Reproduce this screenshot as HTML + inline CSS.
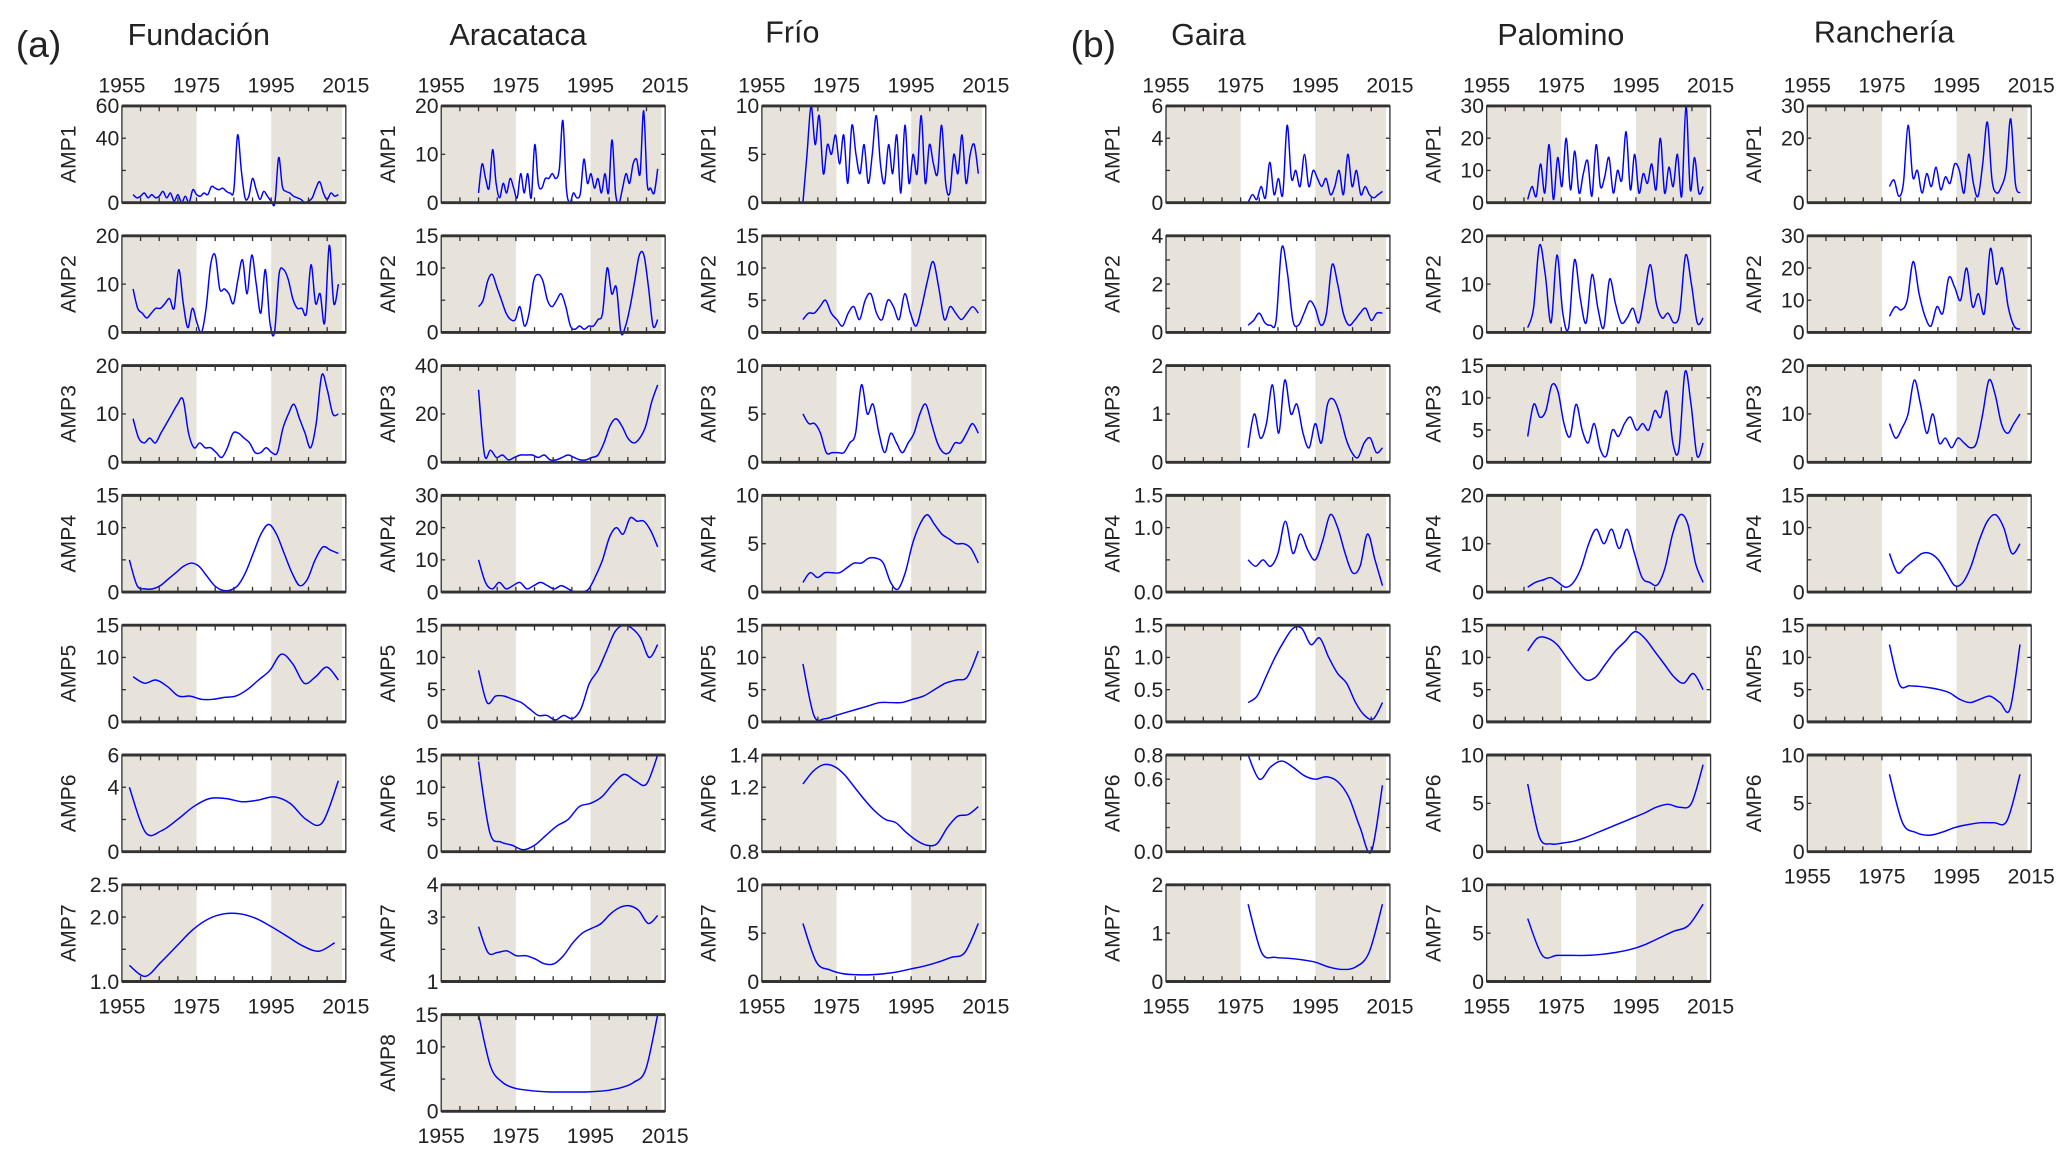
<!DOCTYPE html>
<html><head><meta charset="utf-8"><title>AMP panels</title>
<style>
html,body{margin:0;padding:0;background:#fff;}
svg{display:block;font-family:"Liberation Sans",Arial,sans-serif;}
</style></head>
<body>
<svg id="fig" width="2067" height="1159" viewBox="0 0 1560 875" preserveAspectRatio="none" xmlns="http://www.w3.org/2000/svg">
<g fill="#222">
<text x="12" y="43" font-size="28">(a)</text>
<text x="808" y="43" font-size="28">(b)</text>
<text x="150" y="34" font-size="23" text-anchor="middle">Fundación</text>
<text x="391" y="34" font-size="23" text-anchor="middle">Aracataca</text>
<text x="598" y="32" font-size="23" text-anchor="middle">Frío</text>
<text x="912" y="34" font-size="23" text-anchor="middle">Gaira</text>
<text x="1178" y="34" font-size="23" text-anchor="middle">Palomino</text>
<text x="1422" y="32" font-size="23" text-anchor="middle">Ranchería</text>
</g>
<g id="plots"></g>
</svg>
<script>
// x tick labels
const xTicks = [1955, 1975, 1995, 2015];
const shadeA = [1955, 1975];
const shadeB = [1995, 2014];

// Fundación
const fundAmp1 = [5,3,4,6,3,5,3,4,7,3,6,1,5,0,4,0,8,5,4,6,5,10,9,8,9,7,6,8,42,20,3,4,15,8,2,7,4,1,0,28,10,7,6,4,3,2,0,1,3,9,13,6,2,6,4,5];
const fundAmp2 = [9,5,4,3,4,5,5,6,7,5,13,6,1,5,2,0,5,14,16,9,9,8,6,11,15,8,16,10,4,13,2,0,12,13,11,7,5,5,4,14,6,8,2,18,6,10];
const fundAmp3 = [9,5,4,5,4,6,8,10,12,13,6,3,4,3,3,2,1,3,6,6,5,4,2,2,3,2,2,7,10,12,9,6,3,8,18,15,10,10];
const fundAmp4 = [5,1,0.5,0.5,1,2,3,4,4.5,4,2.5,1,0.3,0.3,1,3,6,9,10.5,9,6,3,1,2,5,7,6.5,6];
const fundAmp5 = [7,6,6.5,5.5,4,4,3.5,3.5,3.8,4,5,6.5,8,10.5,9,6,7,8.5,6.5];
const fundAmp6 = [4,1.2,1.3,2,2.8,3.3,3.3,3.1,3.2,3.4,3,2,1.8,4.4];
const fundAmp7 = [1.25,1.08,1.3,1.55,1.8,1.97,2.05,2.05,1.98,1.85,1.7,1.55,1.47,1.6];
// Aracataca
const araAmp1 = [2,8,5,3,11,4,1,4,2,5,3,1,6,2,6,1,12,4,3,5,5,6,5,7,17,3,0,2,1,2,9,4,6,3,5,2,6,2,13,2,0,3,6,4,8,9,6,19,4,3,2,7];
const araAmp2 = [4,5,8,9,7,5,3,2,2,4,1,3,8,9,8,5,4,5,6,4,1,0.5,1,0.5,1,1,2,3,10,6,7,0,1,4,8,12,12,7,1,2];
const araAmp3 = [30,3,5,2,3,1,2,3,3,3,2,3,1,1,2,3,2,1,1,2,3,8,15,18,15,10,8,10,15,25,32];
const araAmp4 = [10,3,1,3,1,2,3,1,2,3,2,1,2,1,0,0,1,5,10,17,20,18,23,22,22,19,14];
const araAmp5 = [8,3,4,4,3.5,3,2,1,1,0.3,1,0.5,2,6,8,11,14,15,14.5,13,10,12];
const araAmp6 = [14,3,1.5,1,0.3,1,2.5,4,5,7,7.5,8.5,10.5,12,11,10.5,15];
const araAmp7 = [2.7,1.9,1.9,1.95,1.8,1.8,1.7,1.55,1.55,1.8,2.2,2.5,2.65,2.8,3.1,3.3,3.35,3.2,2.8,3.05];
const araAmp8 = [15,7,4.5,3.6,3.3,3.1,3,3,3,3,3.1,3.3,3.7,4.5,6.5,15];
// Frío
const frioAmp1 = [0,5,10,6,9,3,6,5,7,4,7,2,8,5,3,6,2,5,9,4,2,6,3,7,1,8,2,5,3,9,2,6,4,3,8,2,1,5,3,7,2,5,6,3];
const frioAmp2 = [2,3,3,4,5,3,2,1,3,4,2,5,6,3,2,5,4,2,6,3,1,4,8,11,7,2,4,3,2,3,4,3];
const frioAmp3 = [5,4,4,3,1,1,1,1,2,3,8,5,6,3,1,3,2,1,2,3,5,6,4,2,1,1,2,2,3,4,3];
const frioAmp4 = [1,2,1.5,2,2,2,2.5,3,3,3.5,3.5,3,1,0.3,2,5,7,8,7,6,5.5,5,5,4.5,3];
const frioAmp5 = [9,1,0.5,1,1.5,2,2.5,3,3,3,3.5,4,5,6,6.5,7,11];
const frioAmp6 = [1.22,1.3,1.34,1.33,1.28,1.2,1.12,1.05,1.0,0.98,0.92,0.87,0.84,0.85,0.95,1.02,1.03,1.08];
const frioAmp7 = [6,2,1.2,0.8,0.7,0.7,0.8,1,1.3,1.6,2,2.5,3,6];
// Gaira
const gaiAmp1 = [0,0.5,0.2,1,0.3,2.5,0.5,1.5,0.5,4.8,1.5,2,1,3,1,2,1.5,1,1.5,0.5,1,2,0.5,3,1,2,0.5,1,0.5,0.3,0.5,0.7];
const gaiAmp2 = [0.3,0.5,0.8,0.4,0.3,0.5,3.5,2.5,0.5,0.3,0.8,1.3,1,0.3,0.8,2.8,2,0.8,0.3,0.5,0.8,1,0.5,0.8,0.8];
const gaiAmp3 = [0.3,1,0.5,0.8,1.6,0.6,1.7,1,1.2,0.6,0.3,0.8,0.4,1.2,1.3,1,0.5,0.2,0.1,0.4,0.5,0.2,0.3];
const gaiAmp4 = [0.5,0.4,0.5,0.4,0.6,1.1,0.6,0.9,0.65,0.5,0.8,1.2,1.0,0.6,0.3,0.4,0.9,0.5,0.1];
const gaiAmp5 = [0.3,0.4,0.7,1.0,1.25,1.45,1.45,1.2,1.3,1.0,0.75,0.6,0.3,0.1,0.05,0.3];
const gaiAmp6 = [0.8,0.6,0.7,0.75,0.7,0.63,0.6,0.62,0.58,0.45,0.2,0.0,0.55];
const gaiAmp7 = [1.6,0.6,0.5,0.48,0.45,0.4,0.3,0.25,0.3,0.6,1.6];
// Palomino
const palAmp1 = [1,5,2,12,3,18,1,14,5,20,4,16,3,9,13,2,18,5,8,14,3,10,7,22,4,15,3,9,6,12,4,20,3,11,5,15,2,30,4,14,3,5];
const palAmp2 = [1,5,18,12,2,16,4,1,15,7,2,12,5,1,11,6,2,3,5,2,8,14,6,3,4,2,4,16,10,2,3];
const palAmp3 = [4,9,7,8,12,11,6,4,9,5,3,6,2,1,5,4,6,7,5,6,5,8,7,11,3,2,14,9,1,3];
const palAmp4 = [1,2,2.5,3,2,1,2,5,10,13,10,13,9,13,8,3,2,1.5,5,12,16,14,6,2];
const palAmp5 = [11,13,13,12,10,8,6.5,7,9,11,12.5,14,13,11,9,7,6,7.5,5];
const palAmp6 = [7,1.5,0.8,0.9,1.1,1.5,2,2.5,3,3.5,4,4.6,4.9,4.6,5,9];
const palAmp7 = [6.5,2.7,2.7,2.7,2.7,2.8,3,3.3,3.8,4.5,5.2,5.8,8];
// Ranchería
const ranAmp1 = [5,7,2,6,24,8,10,3,9,5,11,4,8,6,12,10,3,15,6,2,12,25,7,3,5,10,26,6,3];
const ranAmp2 = [5,8,7,10,22,12,5,2,8,6,17,14,10,20,8,12,6,26,15,20,8,2,1];
const ranAmp3 = [8,5,7,10,17,12,6,10,4,5,3,5,4,3,4,10,17,14,8,6,8,10];
const ranAmp4 = [6,3,4,5,6,6,5,3,1,1.5,4,8,11,12,10,6,7.5];
const ranAmp5 = [12,5.8,5.6,5.5,5.3,5,4.5,3.5,3,3.5,4,3,2,12];
const ranAmp6 = [8,3,2,1.7,2,2.5,2.8,3,3,3.2,8];

const colX = [92,333,575,880,1122,1364];
const W = 169, H = 73, ROW0 = 80, ROWSTEP = 98;
const FS = 16;

const panels = [
 {c:0,r:0,n:'fundacion',lab:'AMP1',y0:0,y1:60,t:[0,20,40,60],tl:['0','','40','60'],s:1958,e:2013,v:fundAmp1},
 {c:0,r:1,n:'fundacion',lab:'AMP2',y0:0,y1:20,t:[0,10,20],tl:['0','10','20'],s:1958,e:2013,v:fundAmp2},
 {c:0,r:2,n:'fundacion',lab:'AMP3',y0:0,y1:20,t:[0,10,20],tl:['0','10','20'],s:1958,e:2013,v:fundAmp3},
 {c:0,r:3,n:'fundacion',lab:'AMP4',y0:0,y1:15,t:[0,5,10,15],tl:['0','','10','15'],s:1957,e:2013,v:fundAmp4},
 {c:0,r:4,n:'fundacion',lab:'AMP5',y0:0,y1:15,t:[0,5,10,15],tl:['0','','10','15'],s:1958,e:2013,v:fundAmp5},
 {c:0,r:5,n:'fundacion',lab:'AMP6',y0:0,y1:6,t:[0,2,4,6],tl:['0','','4','6'],s:1957,e:2013,v:fundAmp6},
 {c:0,r:6,n:'fundacion',lab:'AMP7',y0:1,y1:2.5,t:[1,1.5,2,2.5],tl:['1.0','','2.0','2.5'],s:1957,e:2012,v:fundAmp7,last:true},
 {c:1,r:0,n:'aracataca',lab:'AMP1',y0:0,y1:20,t:[0,10,20],tl:['0','10','20'],s:1965,e:2013,v:araAmp1},
 {c:1,r:1,n:'aracataca',lab:'AMP2',y0:0,y1:15,t:[0,5,10,15],tl:['0','','10','15'],s:1965,e:2013,v:araAmp2},
 {c:1,r:2,n:'aracataca',lab:'AMP3',y0:0,y1:40,t:[0,20,40],tl:['0','20','40'],s:1965,e:2013,v:araAmp3},
 {c:1,r:3,n:'aracataca',lab:'AMP4',y0:0,y1:30,t:[0,10,20,30],tl:['0','10','20','30'],s:1965,e:2013,v:araAmp4},
 {c:1,r:4,n:'aracataca',lab:'AMP5',y0:0,y1:15,t:[0,5,10,15],tl:['0','5','10','15'],s:1965,e:2013,v:araAmp5},
 {c:1,r:5,n:'aracataca',lab:'AMP6',y0:0,y1:15,t:[0,5,10,15],tl:['0','5','10','15'],s:1965,e:2013,v:araAmp6},
 {c:1,r:6,n:'aracataca',lab:'AMP7',y0:1,y1:4,t:[1,2,3,4],tl:['1','','3','4'],s:1965,e:2013,v:araAmp7},
 {c:1,r:7,n:'aracataca',lab:'AMP8',y0:0,y1:15,t:[0,5,10,15],tl:['0','','10','15'],s:1965,e:2013,v:araAmp8,last:true},
 {c:2,r:0,n:'frio',lab:'AMP1',y0:0,y1:10,t:[0,5,10],tl:['0','5','10'],s:1966,e:2013,v:frioAmp1},
 {c:2,r:1,n:'frio',lab:'AMP2',y0:0,y1:15,t:[0,5,10,15],tl:['0','5','10','15'],s:1966,e:2013,v:frioAmp2},
 {c:2,r:2,n:'frio',lab:'AMP3',y0:0,y1:10,t:[0,5,10],tl:['0','5','10'],s:1966,e:2013,v:frioAmp3},
 {c:2,r:3,n:'frio',lab:'AMP4',y0:0,y1:10,t:[0,5,10],tl:['0','5','10'],s:1966,e:2013,v:frioAmp4},
 {c:2,r:4,n:'frio',lab:'AMP5',y0:0,y1:15,t:[0,5,10,15],tl:['0','5','10','15'],s:1966,e:2013,v:frioAmp5},
 {c:2,r:5,n:'frio',lab:'AMP6',y0:0.8,y1:1.4,t:[0.8,1.0,1.2,1.4],tl:['0.8','','1.2','1.4'],s:1966,e:2013,v:frioAmp6},
 {c:2,r:6,n:'frio',lab:'AMP7',y0:0,y1:10,t:[0,5,10],tl:['0','5','10'],s:1966,e:2013,v:frioAmp7,last:true},
 {c:3,r:0,n:'gaira',lab:'AMP1',y0:0,y1:6,t:[0,2,4,6],tl:['0','','4','6'],s:1977,e:2013,v:gaiAmp1},
 {c:3,r:1,n:'gaira',lab:'AMP2',y0:0,y1:4,t:[0,1,2,3,4],tl:['0','','2','','4'],s:1977,e:2013,v:gaiAmp2},
 {c:3,r:2,n:'gaira',lab:'AMP3',y0:0,y1:2,t:[0,1,2],tl:['0','1','2'],s:1977,e:2013,v:gaiAmp3},
 {c:3,r:3,n:'gaira',lab:'AMP4',y0:0,y1:1.5,t:[0,0.5,1,1.5],tl:['0.0','','1.0','1.5'],s:1977,e:2013,v:gaiAmp4},
 {c:3,r:4,n:'gaira',lab:'AMP5',y0:0,y1:1.5,t:[0,0.5,1,1.5],tl:['0.0','0.5','1.0','1.5'],s:1977,e:2013,v:gaiAmp5},
 {c:3,r:5,n:'gaira',lab:'AMP6',y0:0,y1:0.8,t:[0,0.2,0.4,0.6,0.8],tl:['0.0','','','0.6','0.8'],s:1977,e:2013,v:gaiAmp6},
 {c:3,r:6,n:'gaira',lab:'AMP7',y0:0,y1:2,t:[0,1,2],tl:['0','1','2'],s:1977,e:2013,v:gaiAmp7,last:true},
 {c:4,r:0,n:'palomino',lab:'AMP1',y0:0,y1:30,t:[0,10,20,30],tl:['0','10','20','30'],s:1966,e:2013,v:palAmp1},
 {c:4,r:1,n:'palomino',lab:'AMP2',y0:0,y1:20,t:[0,10,20],tl:['0','10','20'],s:1966,e:2013,v:palAmp2},
 {c:4,r:2,n:'palomino',lab:'AMP3',y0:0,y1:15,t:[0,5,10,15],tl:['0','5','10','15'],s:1966,e:2013,v:palAmp3},
 {c:4,r:3,n:'palomino',lab:'AMP4',y0:0,y1:20,t:[0,10,20],tl:['0','10','20'],s:1966,e:2013,v:palAmp4},
 {c:4,r:4,n:'palomino',lab:'AMP5',y0:0,y1:15,t:[0,5,10,15],tl:['0','5','10','15'],s:1966,e:2013,v:palAmp5},
 {c:4,r:5,n:'palomino',lab:'AMP6',y0:0,y1:10,t:[0,5,10],tl:['0','5','10'],s:1966,e:2013,v:palAmp6},
 {c:4,r:6,n:'palomino',lab:'AMP7',y0:0,y1:10,t:[0,5,10],tl:['0','5','10'],s:1966,e:2013,v:palAmp7,last:true},
 {c:5,r:0,n:'rancheria',lab:'AMP1',y0:0,y1:30,t:[0,10,20,30],tl:['0','','20','30'],s:1977,e:2012,v:ranAmp1},
 {c:5,r:1,n:'rancheria',lab:'AMP2',y0:0,y1:30,t:[0,10,20,30],tl:['0','10','20','30'],s:1977,e:2012,v:ranAmp2},
 {c:5,r:2,n:'rancheria',lab:'AMP3',y0:0,y1:20,t:[0,10,20],tl:['0','10','20'],s:1977,e:2012,v:ranAmp3},
 {c:5,r:3,n:'rancheria',lab:'AMP4',y0:0,y1:15,t:[0,5,10,15],tl:['0','','10','15'],s:1977,e:2012,v:ranAmp4},
 {c:5,r:4,n:'rancheria',lab:'AMP5',y0:0,y1:15,t:[0,5,10,15],tl:['0','5','10','15'],s:1977,e:2012,v:ranAmp5},
 {c:5,r:5,n:'rancheria',lab:'AMP6',y0:0,y1:10,t:[0,5,10],tl:['0','5','10'],s:1977,e:2012,v:ranAmp6,last:true}
];

const NS = 'http://www.w3.org/2000/svg';
const root = document.getElementById('plots');
function mk(tag, attrs, parent){
  const el = document.createElementNS(NS, tag);
  for (const k in attrs) el.setAttribute(k, attrs[k]);
  parent.appendChild(el);
  return el;
}
function spline(pts){
  let d = 'M' + pts[0][0].toFixed(2) + ',' + pts[0][1].toFixed(2);
  for (let i = 0; i < pts.length - 1; i++){
    const p0 = pts[i-1] || pts[i], p1 = pts[i], p2 = pts[i+1], p3 = pts[i+2] || p2;
    const c1x = p1[0] + (p2[0]-p0[0])/6, c1y = p1[1] + (p2[1]-p0[1])/6;
    const c2x = p2[0] - (p3[0]-p1[0])/6, c2y = p2[1] - (p3[1]-p1[1])/6;
    d += 'C' + c1x.toFixed(2) + ',' + c1y.toFixed(2) + ' ' + c2x.toFixed(2) + ',' + c2y.toFixed(2) + ' ' + p2[0].toFixed(2) + ',' + p2[1].toFixed(2);
  }
  return d;
}
const topRowByCol = {};
panels.forEach(p => { if (topRowByCol[p.c] === undefined || p.r < topRowByCol[p.c]) topRowByCol[p.c] = p.r; });

panels.forEach(p => {
  const L = colX[p.c], T = ROW0 + ROWSTEP * p.r, R = L + W, B = T + H;
  const xs = yr => L + (yr - 1955) / 60 * W;
  const ys = v => B - (v - p.y0) / (p.y1 - p.y0) * H;
  const g = mk('g', {}, root);
  
  
  const s1 = mk('rect', {x:xs(shadeA[0]), y:T, width:xs(shadeA[1])-xs(shadeA[0]), height:H, fill:'#e7e3db'}, g);
  
  
  const s2 = mk('rect', {x:xs(shadeB[0]), y:T, width:xs(shadeB[1])-xs(shadeB[0]), height:H, fill:'#e7e3db'}, g);
  
  
  const n = p.v.length;
  const pts = p.v.map((v, i) => [xs(p.s + i * (p.e - p.s) / (n - 1)), ys(v)]);
  const ln = mk('path', {d:spline(pts), fill:'none', stroke:'#0000ff', 'stroke-width':1.1, 'stroke-linejoin':'round'}, g);
  
  
  const fr = mk('rect', {x:L, y:T, width:W, height:H, fill:'none', stroke:'#333', 'stroke-width':1}, g);
  
  
  mk('line', {x1:L, x2:R, y1:T, y2:T, stroke:'#333', 'stroke-width':2.2}, g);
  mk('line', {x1:L, x2:R, y1:B, y2:B, stroke:'#333', 'stroke-width':2.2}, g);
  for (let yr = 1960; yr < 2015; yr += 5){
    const x = xs(yr);
    mk('line', {x1:x, x2:x, y1:T, y2:T+4, stroke:'#333', 'stroke-width':1}, g);
    mk('line', {x1:x, x2:x, y1:B, y2:B-4, stroke:'#333', 'stroke-width':1}, g);
  }
  p.t.forEach((tv, i) => {
    const y = ys(tv);
    mk('line', {x1:L, x2:L+3, y1:y, y2:y, stroke:'#333', 'stroke-width':1}, g);
    mk('line', {x1:R, x2:R-3, y1:y, y2:y, stroke:'#333', 'stroke-width':1}, g);
    if (p.tl[i] !== ''){
      const tx = mk('text', {x:L-2, y:y+5.5, 'font-size':FS, 'text-anchor':'end', fill:'#222'}, g);
      tx.textContent = p.tl[i];
      
      
    }
  });
  const yl = mk('text', {x:0, y:0, 'font-size':FS, 'text-anchor':'middle', fill:'#222', transform:'translate(' + (L-35) + ',' + (T+H/2) + ') rotate(-90)'}, g);
  yl.textContent = p.lab;
  
  
  const rows = [];
  if (p.r === topRowByCol[p.c]) rows.push(T - 10);
  if (p.last) rows.push(B + 24);
  rows.forEach(yy => {
    xTicks.forEach(yr => {
      const tx = mk('text', {x:xs(yr), y:yy, 'font-size':FS, 'text-anchor':'middle', fill:'#222'}, g);
      tx.textContent = yr;
      
      
    });
  });
});
</script>
</body></html>
